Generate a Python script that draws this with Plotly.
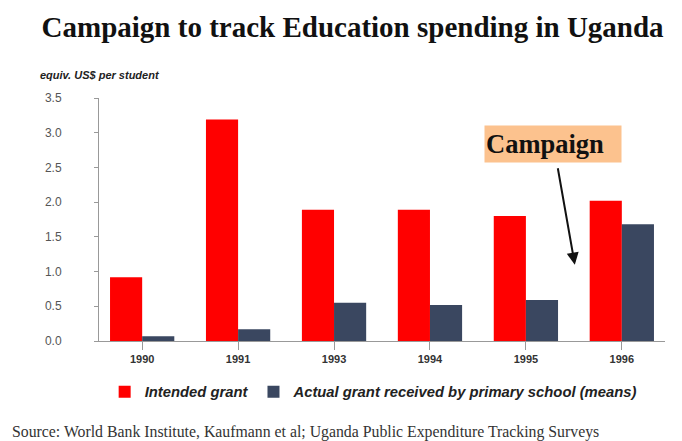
import plotly.graph_objects as go

years = ["1990", "1991", "1993", "1994", "1995", "1996"]
intended = [0.92, 3.19, 1.89, 1.89, 1.80, 2.02]
actual = [0.07, 0.17, 0.55, 0.52, 0.59, 1.68]

fig = go.Figure()
fig.add_trace(go.Bar(x=years, y=intended, name="Intended grant",
                     marker=dict(color="#FF0000", line=dict(width=0))))
fig.add_trace(go.Bar(x=years, y=actual, name="Actual grant received by primary school (means)",
                     marker=dict(color="#3A4760", line=dict(width=0))))

fig.update_layout(
    width=682, height=441,
    margin=dict(l=99, r=17, t=98, b=100),
    paper_bgcolor="white", plot_bgcolor="white",
    barmode="group", bargap=0.33, bargroupgap=0,
    showlegend=True,
    legend=dict(orientation="h", x=0.01, y=-0.21, xanchor="left", yanchor="middle",
                font=dict(family="Arial", size=14.8, color="#222", style="italic", weight="bold"),
                itemwidth=30, bgcolor="rgba(0,0,0,0)"),
    title=dict(text="<b>Campaign to track Education spending in Uganda</b>",
               x=0.517, xanchor="center", y=0.94, yanchor="middle",
               font=dict(family="Liberation Serif", size=29, color="#111")),
)

fig.update_xaxes(type="category", range=[-0.45, 5.45], showline=True, linecolor="#999",
                 linewidth=1, ticks="outside", ticklen=8, tickcolor="#999",
                 tickfont=dict(family="Arial", size=11, color="#333", weight="bold"),
                 showgrid=False, zeroline=False)
fig.update_yaxes(range=[0, 3.5], dtick=0.5, tickformat=".1f", showline=True, linecolor="#999",
                 linewidth=1, ticks="outside", ticklen=4, tickcolor="#999",
                 ticklabelposition="outside", ticklabelstandoff=30, automargin=False,
                 tickfont=dict(family="Arial", size=12, color="#555"),
                 showgrid=False, zeroline=False)

fig.add_annotation(text="<i><b>equiv. US$ per student</b></i>", xref="paper", yref="paper",
                   x=-0.108, y=1.095, xanchor="left", yanchor="middle", showarrow=False,
                   font=dict(family="Arial", size=11, color="#222"))

fig.add_annotation(text="Source: World Bank Institute, Kaufmann et al; Uganda Public Expenditure Tracking Surveys",
                   xref="paper", yref="paper", x=-0.158, y=-0.375, xanchor="left", yanchor="middle",
                   showarrow=False, font=dict(family="Liberation Serif", size=15.8, color="#333"))

fig.add_annotation(text="<b>Campaign</b>", xref="paper", yref="paper", x=0.802, y=0.811,
                   xanchor="center", yanchor="middle", showarrow=False, width=134, height=34,
                   align="left", bgcolor="#FCC28E",
                   font=dict(family="Liberation Serif", size=26.5, color="#111"))

fig.add_annotation(x=4.51, y=1.10, xref="x", yref="y", ax=4.33, ay=2.51, axref="x", ayref="y",
                   text="", showarrow=True, arrowhead=2, arrowsize=1.2, arrowwidth=2,
                   arrowcolor="#111")

fig.write_html("out.html")
